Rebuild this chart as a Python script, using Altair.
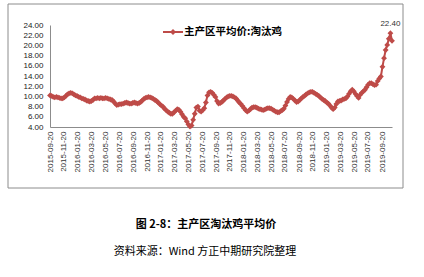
import altair as alt
import pandas as pd

# weekly series, starting 2015-09-20
start_date = "2015-09-20"
values = [
    10.2, 10.1, 9.9, 9.8, 9.9, 9.8, 9.7, 9.6, 9.6, 9.8,
    10.1, 10.4, 10.6, 10.7, 10.6, 10.4, 10.2, 10.1, 9.9, 9.8,
    9.6, 9.5, 9.4, 9.2, 9.1, 9.0, 9.1, 9.3, 9.6, 9.6,
    9.7, 9.6, 9.7, 9.6, 9.6, 9.7, 9.6, 9.5, 9.4, 9.3,
    9.0, 8.6, 8.3, 8.4, 8.5, 8.5, 8.6, 8.7, 8.8, 8.7,
    8.6, 8.6, 8.7, 8.8, 8.7, 8.6, 8.7, 8.9, 9.2, 9.5,
    9.7, 9.8, 9.9, 9.8, 9.7, 9.5, 9.3, 9.1, 8.8, 8.5,
    8.2, 8.0, 7.6, 7.3, 7.0, 6.8, 6.6, 6.6, 6.9, 7.2,
    7.5, 7.4, 7.0, 6.5, 6.0, 5.7, 5.1, 4.5, 4.1, 4.3,
    5.4, 6.6, 7.8, 8.0, 7.2, 7.0, 7.3, 7.7, 8.8, 10.2,
    10.8, 10.9, 10.7, 10.3, 9.9, 9.1, 8.6, 8.7, 8.9, 9.2,
    9.5, 9.8, 10.0, 10.1, 10.1, 10.0, 9.8, 9.6, 9.2, 8.8,
    8.5, 8.1, 7.7, 7.3, 7.0, 7.2, 7.5, 7.8, 7.9, 7.9,
    7.8, 7.6, 7.5, 7.4, 7.3, 7.4, 7.6, 7.7, 7.7, 7.6,
    7.4, 7.2, 7.0, 6.9, 6.9, 7.1, 7.3, 7.6, 8.2, 8.9,
    9.5, 9.9, 9.8, 9.5, 9.2, 8.9, 9.0, 9.3, 9.6, 9.9,
    10.1, 10.4, 10.6, 10.8, 10.9, 10.9, 10.7, 10.5, 10.3, 10.1,
    9.8, 9.5, 9.3, 9.1, 8.8, 8.6, 8.2, 7.8, 7.5, 7.8,
    8.5, 9.0, 9.1, 9.2, 9.4, 9.5, 9.6, 10.0, 10.5, 11.0,
    11.3, 11.0, 10.5, 10.1, 9.7, 10.3, 10.7, 11.0, 11.3, 11.8,
    12.3, 12.6, 12.6, 12.4, 12.2, 12.3, 13.0, 13.5, 13.9, 15.8,
    17.5, 19.1, 20.1, 21.3, 22.4, 20.9,
]
x_ticks = [
    "2015-09-20", "2015-11-20", "2016-01-20", "2016-03-20", "2016-05-20",
    "2016-07-20", "2016-09-20", "2016-11-20", "2017-01-20", "2017-03-20",
    "2017-05-20", "2017-07-20", "2017-09-20", "2017-11-20", "2018-01-20",
    "2018-03-20", "2018-05-20", "2018-07-20", "2018-09-20", "2018-11-20",
    "2019-01-20", "2019-03-20", "2019-05-20", "2019-07-20", "2019-09-20",
]
y_ticks = [4, 6, 8, 10, 12, 14, 16, 18, 20, 22, 24]
series_name = "主产区平均价:淘汰鸡"
caption = "图 2-8：主产区淘汰鸡平均价"
source = "资料来源：Wind  方正中期研究院整理"

RED = "#BE4B48"
FONT = "Liberation Sans"

dates = pd.date_range(start_date, periods=len(values), freq="7D")
df = pd.DataFrame({"date": dates.strftime("%Y-%m-%d"), "value": values})

tick_vals = [
    alt.DateTime(year=int(t[:4]), month=int(t[5:7]), date=int(t[8:]), utc=True)
    for t in x_ticks
]

x_enc = alt.X(
    "date:T",
    scale=alt.Scale(type="utc", nice=False),
    axis=alt.Axis(
        values=tick_vals, format="%Y-%m-%d", labelAngle=270,
        labelFont=FONT, labelFontSize=8, labelColor="#333333",
        ticks=False, grid=False, domainColor="#8c8c8c", labelPadding=4,
        title=None, labelOverlap=False,
    ),
)
y_enc = alt.Y(
    "value:Q",
    scale=alt.Scale(domain=[4, 24], nice=False, zero=False),
    axis=alt.Axis(
        values=y_ticks, format=".2f", labelFont=FONT, labelFontSize=8,
        labelColor="#222222", ticks=False, grid=False, domainColor="#8c8c8c",
        labelPadding=7, title=None,
    ),
)

base = alt.Chart(df)
line = base.mark_line(color=RED, strokeWidth=2).encode(x=x_enc, y=y_enc)
pts = base.mark_point(shape="diamond", filled=True, color=RED, size=34, opacity=1).encode(x=x_enc, y=y_enc)

label = base.transform_window(
    rk="rank()", sort=[alt.SortField("value", order="descending")]
).transform_filter("datum.rk == 1").mark_text(
    dy=-9, fontSize=8, font=FONT, color="#333333"
).encode(x=x_enc, y=y_enc, text=alt.Text("value:Q", format=".2f"))

# legend (manual)
leg_df = pd.DataFrame({"name": [series_name]})
leg = alt.Chart(leg_df)
leg_line = leg.mark_rule(color=RED, strokeWidth=2).encode(
    x=alt.value(113), x2=alt.value(133), y=alt.value(7)
)
leg_pt = leg.mark_point(shape="diamond", filled=True, color=RED, size=36, opacity=1).encode(
    x=alt.value(123), y=alt.value(7)
)
leg_txt = leg.mark_text(
    align="left", baseline="middle", font="Noto Sans CJK SC", fontSize=10.5,
    fontWeight="bold", color="#000000"
).encode(x=alt.value(134), y=alt.value(7), text="name:N")

# frame and captions
frame = leg.mark_rect(fill=None, stroke="#8c8c8c", strokeWidth=1).encode(
    x=alt.value(-42), x2=alt.value(353), y=alt.value(-21), y2=alt.value(163)
)
cap_df = pd.DataFrame({"t": [caption]})
cap = alt.Chart(cap_df).mark_text(
    align="center", baseline="middle", font="Noto Sans CJK SC", fontSize=11,
    fontWeight="bold", color="#000000"
).encode(x=alt.value(156), y=alt.value(200), text="t:N")
src_df = pd.DataFrame({"t": [source]})
src = alt.Chart(src_df).mark_text(
    align="center", baseline="middle", font="Noto Sans CJK SC", fontSize=11,
    color="#000000"
).encode(x=alt.value(155), y=alt.value(227), text="t:N")

chart = alt.layer(frame, line, pts, label, leg_line, leg_pt, leg_txt, cap, src).properties(
    width=342, height=102,
    autosize=alt.AutoSizeParams(type="none"),
    padding={"left": 50, "top": 25, "right": 32, "bottom": 150},
    background="white",
).configure_view(stroke=None)

chart.save("out.html", embed_options={"renderer": "svg", "actions": False})
